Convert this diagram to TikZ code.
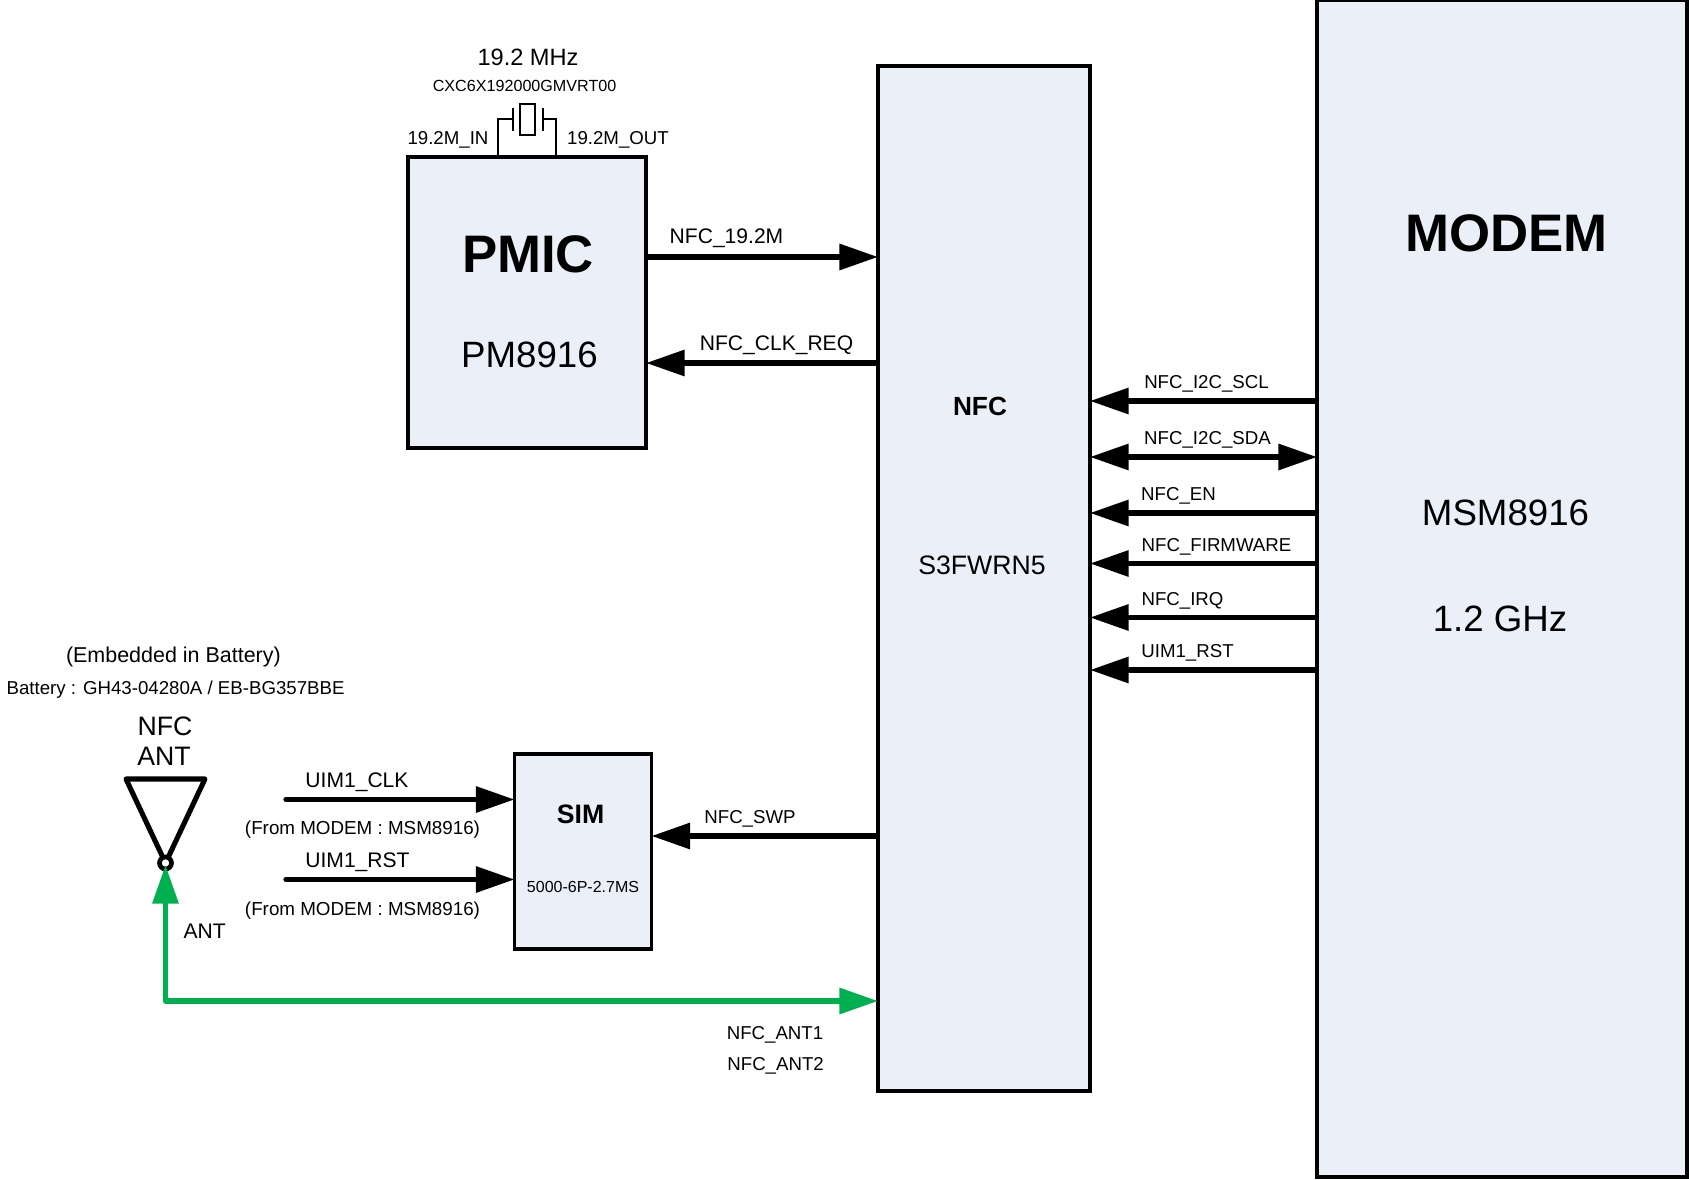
\documentclass[tikz,border=0pt]{standalone}
\usepackage{fontspec}
\setmainfont{Liberation Sans}
\usetikzlibrary{arrows.meta}
\newcommand{\fsz}[1]{\fontsize{#1}{#1}\selectfont}
\definecolor{boxblue}{RGB}{235,240,248}
\definecolor{antgreen}{RGB}{0,176,80}
\tikzset{
  blockbox/.style={draw=black,fill=boxblue,line width=2.5pt,outer sep=0pt,inner sep=0pt},
  sigarrow/.style={line width=4pt,-{Triangle[length=29pt,width=19pt]}},
  bothsig/.style={line width=4pt,{Triangle[length=29pt,width=19pt]}-{Triangle[length=29pt,width=19pt]}},
  antarrow/.style={color=antgreen,line width=4pt,line join=round,{Triangle[length=29pt,width=19pt]}-{Triangle[length=29pt,width=19pt]}},
  sigtext/.style={inner sep=0pt,font=\fsz{14}},
  widetext/.style={inner sep=0pt,font=\fsz{15.8}},
  thinline/.style={line width=1.3pt}
}
\begin{document}
\begin{tikzpicture}[x=0.75pt,y=0.75pt,yscale=-1,xscale=1]
\useasboundingbox (0,0) rectangle (1689,1180);

%Shape: Blocks
\node (modem) [blockbox,minimum width=277.5pt,minimum height=882.75pt] at (1502,588.5) {};
\node (nfc) [blockbox,minimum width=159pt,minimum height=768.75pt] at (984,578.5) {};
\node (pmic) [blockbox,minimum width=178.5pt,minimum height=218.25pt] at (527,302.5) {};
\node (sim) [blockbox,minimum width=102.75pt,minimum height=146.25pt] at (583,851.5) {};

%Shape: Crystal
\coordinate (xtalin) at (498,157);
\coordinate (xtalout) at (556,157);
\draw [thinline] (xtalin) -- (498,119) -- (513,119);
\draw [thinline] (513,108) -- (513,131);
\draw [thinline] (520,104) rectangle (535,135);
\draw [thinline] (543,108) -- (543,131);
\draw [thinline] (543,119) -- (556,119) -- (xtalout);

%Shape: Antenna
\coordinate (anttip) at (165.5,863);
\draw [line width=3.8pt,line join=round] (anttip) -- (126,779) -- (205,779) -- cycle;
\node (antdot) [circle,draw=black,fill=white,line width=3.5pt,minimum size=9pt,inner sep=0pt,outer sep=0pt] at (anttip) {};

%Straight Lines
\coordinate (rowa) at (0,257);
\coordinate (rowb) at (0,363);
\coordinate (rowc) at (0,401);
\coordinate (rowd) at (0,457);
\coordinate (rowe) at (0,513);
\coordinate (rowf) at (0,563.5);
\coordinate (rowg) at (0,617.5);
\coordinate (rowh) at (0,670);
\coordinate (rowi) at (0,836);
\coordinate (rowj) at (0,1001);
\coordinate (clkin) at (286,799.5);
\coordinate (rstin) at (286,879.5);
\draw [sigarrow] (pmic.east |- rowa) -- (nfc.west |- rowa);
\draw [sigarrow] (nfc.west |- rowb) -- (pmic.east |- rowb);
\draw [sigarrow] (modem.west |- rowc) -- (nfc.east |- rowc);
\draw [bothsig] (nfc.east |- rowd) -- (modem.west |- rowd);
\draw [sigarrow] (modem.west |- rowe) -- (nfc.east |- rowe);
\draw [sigarrow] (modem.west |- rowf) -- (nfc.east |- rowf);
\draw [sigarrow] (modem.west |- rowg) -- (nfc.east |- rowg);
\draw [sigarrow] (modem.west |- rowh) -- (nfc.east |- rowh);
\draw [sigarrow] (nfc.west |- rowi) -- (sim.east |- rowi);
\draw [sigarrow,line cap=round] (clkin) -- (sim.west |- clkin);
\draw [sigarrow,line cap=round] (rstin) -- (sim.west |- rstin);
\draw [antarrow,shorten >=-3pt] (nfc.west |- rowj) -- (antdot.south |- rowj) -- (antdot.south);

% Text Node
\node (mhz) [sigtext,font=\fsz{17.7}] at (528,57) {19.2 MHz};
\node (partno) [sigtext,font=\fsz{12.1}] at (524.6,86) {CXC6X192000GMVRT00};
\node (inlabel) [sigtext] at (448,140) {19.2M\_IN};
\node (outlabel) [sigtext] at (618,140) {19.2M\_OUT};
\node (pmictitle) [sigtext,font=\fsz{39.6}\bfseries] at (528,254) {PMIC};
\node (pmicpart) [sigtext,font=\fsz{27.5}] at (529.5,355) {PM8916};
\node (clklabel) [widetext] at (726.5,238.5) {NFC\_19.2M};
\node (reqlabel) [widetext] at (776.5,345.5) {NFC\_CLK\_REQ};
\node (nfctitle) [sigtext,font=\fsz{19.7}\bfseries] at (980,406) {NFC};
\node (nfcpart) [sigtext,font=\fsz{20}] at (982,565.5) {S3FWRN5};
\node (modemtitle) [sigtext,font=\fsz{39.6}\bfseries] at (1506.5,233.5) {MODEM};
\node (modempart) [sigtext,font=\fsz{27.5}] at (1505.5,513) {MSM8916};
\node (modemspeed) [sigtext,font=\fsz{27.5}] at (1500,619) {1.2 GHz};
\node (scllabel) [sigtext] at (1206.5,384) {NFC\_I2C\_SCL};
\node (sdalabel) [sigtext] at (1207.5,440) {NFC\_I2C\_SDA};
\node (enlabel) [sigtext] at (1178.5,495.5) {NFC\_EN};
\node (fwlabel) [sigtext] at (1216.5,547) {NFC\_FIRMWARE};
\node (irqlabel) [sigtext] at (1182.5,601) {NFC\_IRQ};
\node (rstlabel) [sigtext] at (1187.5,653) {UIM1\_RST};
\node (swplabel) [sigtext] at (750,819) {NFC\_SWP};
\node (simtitle) [sigtext,font=\fsz{20}\bfseries] at (580.6,814) {SIM};
\node (simpart) [sigtext,font=\fsz{12}] at (583,886.5) {5000-6P-2.7MS};
\node (uimclk) [widetext] at (357,782) {UIM1\_CLK};
\node (fromclk) [sigtext,font=\fsz{14.1}] at (362.5,830) {(From MODEM : MSM8916)};
\node (uimrst) [widetext] at (357.5,862) {UIM1\_RST};
\node (fromrst) [sigtext,font=\fsz{14.1}] at (362.5,911) {(From MODEM : MSM8916)};
\node (antlabel) [widetext] at (204.7,931.5) {ANT};
\node (antname) [sigtext,font=\fsz{20}] at (165,726.5) {NFC};
\node (antnameb) [sigtext,font=\fsz{20}] at (164,756) {ANT};
\node (embedded) [widetext,font=\fsz{16.1}] at (173.4,657) {(Embedded in Battery)};
\node (battery) [sigtext] at (175.6,690) {Battery : GH43-04280A / EB-BG357BBE};
\node (antone) [sigtext] at (775,1035) {NFC\_ANT1};
\node (anttwo) [sigtext] at (775.6,1066) {NFC\_ANT2};

\end{tikzpicture}
\end{document}
